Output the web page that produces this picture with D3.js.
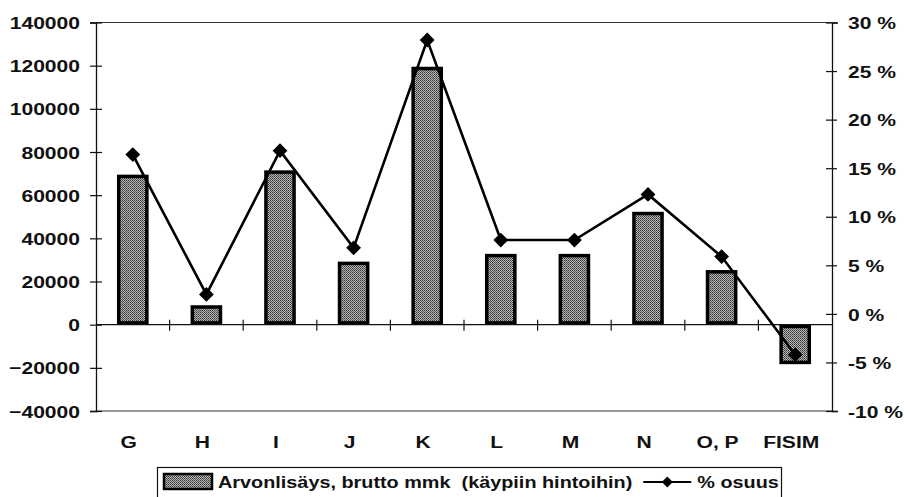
<!DOCTYPE html>
<html>
<head>
<meta charset="utf-8">
<script src="https://cdn.jsdelivr.net/npm/d3@7"></script>
<style>
  body { margin: 0; background: #fff; }
  svg { display: block; font-family: "Liberation Sans", Arial, sans-serif; }
  text { white-space: pre; }
</style>
</head>
<body>
<svg id="sv" width="908" height="497"></svg>
<script>
// data
const cats = ["G", "H", "I", "J", "K", "L", "M", "N", "O, P", "FISIM"];
const arvo = [69500, 9000, 71500, 29200, 119500, 32800, 32800, 52300, 25300, -18300];
const osuus = [16.4, 2.0, 16.8, 6.8, 28.2, 7.6, 7.6, 12.3, 5.9, -4.2];
const leftTicks = [-40000, -20000, 0, 20000, 40000, 60000, 80000, 100000, 120000, 140000];
const rightTicks = [-10, -5, 0, 5, 10, 15, 20, 25, 30];
const barName = "Arvonlisäys, brutto mmk  (käypiin hintoihin)";
const lineName = "% osuus";

const SX = 1.24; // scan is horizontally stretched
const ink = "#111";
const m = { l: 96, r: 832, t: 22.5, b: 411 };
const svg = d3.select("#sv");

const defs = svg.append("defs");
const pat = defs.append("pattern").attr("id", "dith").attr("width", 2).attr("height", 2).attr("patternUnits", "userSpaceOnUse");
pat.append("rect").attr("width", 2).attr("height", 2).attr("fill", "#b8b8b8");
pat.append("rect").attr("width", 1).attr("height", 1).attr("fill", "#333");
pat.append("rect").attr("x", 1).attr("y", 1).attr("width", 1).attr("height", 1).attr("fill", "#555");

const x = d3.scaleBand().domain(cats).range([m.l, m.r]);
const yL = d3.scaleLinear().domain([-40000, 140000]).range([m.b, m.t]);
const yR = d3.scaleLinear().domain([-10, 30]).range([m.b, m.t]);

// frame top/bottom
svg.append("line").attr("x1", m.l).attr("x2", m.r).attr("y1", m.t).attr("y2", m.t).attr("stroke", "#333").attr("stroke-width", 1.2);
svg.append("line").attr("x1", m.l).attr("x2", m.r).attr("y1", m.b).attr("y2", m.b).attr("stroke", "#333").attr("stroke-width", 1.2);

// bars
const bw = x.step() * 0.43;
svg.append("g").selectAll("rect").data(cats).enter().append("rect")
  .attr("x", d => x(d) + x.step() / 2 - bw / 2 + 1.75)
  .attr("width", bw - 3.5)
  .attr("y", (d, i) => Math.min(yL(arvo[i]), yL(0)) + 1.75)
  .attr("height", (d, i) => Math.abs(yL(arvo[i]) - yL(0)) - 3.5)
  .attr("fill", "url(#dith)").attr("stroke", "#000").attr("stroke-width", 3.5);

// zero line with category boundary ticks
const z = yL(0);
svg.append("line").attr("x1", m.l).attr("x2", m.r).attr("y1", z).attr("y2", z).attr("stroke", ink).attr("stroke-width", 1.3);
svg.append("g").selectAll("line").data(d3.range(1, cats.length)).enter().append("line")
  .attr("x1", i => m.l + i * x.step()).attr("x2", i => m.l + i * x.step())
  .attr("y1", z - 5).attr("y2", z + 6).attr("stroke", ink).attr("stroke-width", 1.2);

const styleText = sel => sel.attr("font-size", 17).attr("font-weight", 700).attr("fill", ink)
  .attr("font-family", "Liberation Sans, Arial, sans-serif");

// left axis
const gl = svg.append("g").attr("transform", `translate(${m.l},0)`)
  .call(d3.axisLeft(yL).tickValues(leftTicks).tickFormat(d3.format("d")).tickSize(6));
gl.select(".domain").attr("stroke", ink).attr("stroke-width", 1.3);
gl.selectAll(".tick line").attr("x1", 6).attr("x2", -6).attr("stroke", ink).attr("stroke-width", 1.2);
gl.selectAll(".tick text").attr("x", -16 / SX).attr("dy", "0.36em").attr("transform", `scale(${SX},1)`).call(styleText);

// right axis
const gr = svg.append("g").attr("transform", `translate(${m.r},0)`)
  .call(d3.axisRight(yR).tickValues(rightTicks).tickFormat(d => d + " %").tickSize(6));
gr.select(".domain").attr("stroke", ink).attr("stroke-width", 1.3);
gr.selectAll(".tick line").attr("x1", -6).attr("x2", 5).attr("stroke", ink).attr("stroke-width", 1.2);
gr.selectAll(".tick text").attr("x", 16 / SX).attr("dy", "0.36em").attr("transform", `scale(${SX},1)`).call(styleText);

// category labels
const gx = svg.append("g").attr("transform", `translate(-4,${m.b})`)
  .call(d3.axisBottom(x).tickSize(0));
gx.select(".domain").remove();
gx.selectAll(".tick text").attr("y", 0).attr("dy", "2.15em").attr("transform", `scale(${SX},1)`).call(styleText);

// line + diamonds
const cx = d => x(d) + x.step() / 2;
const line = d3.line().x((d, i) => cx(cats[i])).y(d => yR(d));
svg.append("path").datum(osuus).attr("d", line).attr("fill", "none").attr("stroke", "#000").attr("stroke-width", 2.6);
svg.append("g").selectAll("path").data(osuus).enter().append("path")
  .attr("d", d3.symbol(d3.symbolSquare, 110))
  .attr("transform", (d, i) => `translate(${cx(cats[i])},${yR(d)}) rotate(45)`)
  .attr("fill", "#000");

// legend
const lg = svg.append("g");
lg.append("rect").attr("x", 157.5).attr("y", 467.5).attr("width", 624).attr("height", 34)
  .attr("fill", "#fff").attr("stroke", ink).attr("stroke-width", 1.2);
lg.append("rect").attr("x", 164).attr("y", 474).attr("width", 48).attr("height", 15)
  .attr("fill", "url(#dith)").attr("stroke", "#000").attr("stroke-width", 2.5);
const t1 = lg.append("text").attr("transform", `translate(218,488) scale(${SX},1)`)
  .call(styleText).attr("font-size", 16).text(barName);
const w1 = t1.node().getComputedTextLength() * SX;
const lx = 218 + w1 + 11;
lg.append("line").attr("x1", lx).attr("x2", lx + 48).attr("y1", 482).attr("y2", 482).attr("stroke", "#000").attr("stroke-width", 2);
lg.append("path").attr("d", d3.symbol(d3.symbolSquare, 60)).attr("transform", `translate(${lx + 24},482) rotate(45)`).attr("fill", "#000");
lg.append("text").attr("transform", `translate(${lx + 54},488) scale(${SX},1)`)
  .call(styleText).attr("font-size", 16).text(lineName);
</script>
</body>
</html>
